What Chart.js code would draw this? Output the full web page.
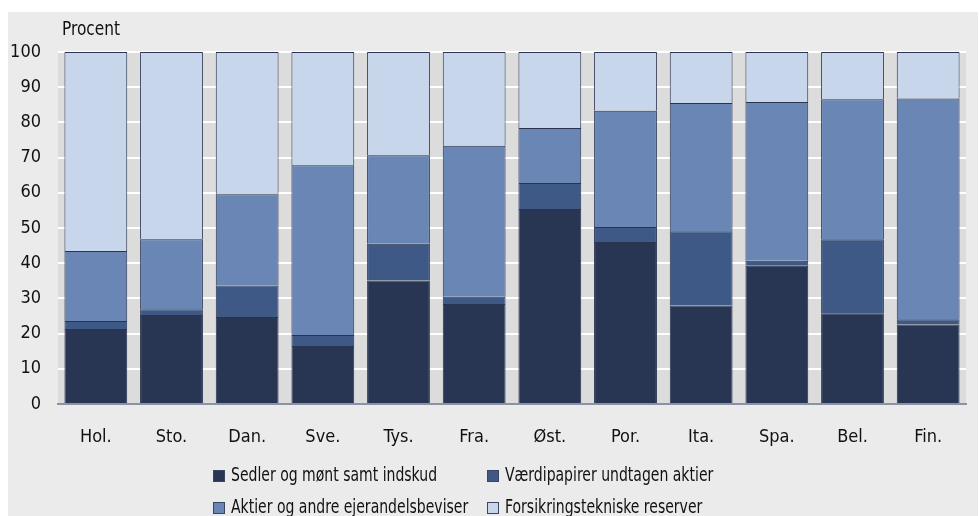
<!DOCTYPE html>
<html>
<head>
<meta charset="utf-8">
<script src="https://cdn.jsdelivr.net/npm/chart.js@4/dist/chart.umd.min.js"></script>
<style>
  html, body { margin: 0; padding: 0; background: #ffffff; }
  #wrap { width: 979px; height: 516px; position: relative; }
</style>
</head>
<body>
<div id="wrap"><canvas id="c" width="979" height="516"></canvas></div>
<script>
const categories = ["Hol.", "Sto.", "Dan.", "Sve.", "Tys.", "Fra.", "Øst.", "Por.", "Ita.", "Spa.", "Bel.", "Fin."];
const seriesNames = ["Sedler og mønt samt indskud", "Værdipapirer undtagen aktier", "Aktier og andre ejerandelsbeviser", "Forsikringstekniske reserver"];
const sedler = [21.3, 25.3, 24.7, 16.5, 35.1, 28.4, 55.4, 46.0, 28.0, 39.3, 25.8, 22.6];
const vaerdipapirer = [2.3, 1.6, 9.0, 3.1, 10.4, 2.1, 7.4, 4.3, 21.1, 1.4, 21.0, 1.5];
const aktier = [19.9, 19.9, 25.9, 48.2, 25.2, 42.9, 15.6, 33.0, 36.4, 45.1, 39.8, 62.7];
const forsikring = [56.5, 53.2, 40.4, 32.2, 29.3, 26.6, 21.6, 16.7, 14.5, 14.2, 13.4, 13.2];
const yTicks = [0, 10, 20, 30, 40, 50, 60, 70, 80, 90, 100];
const yUnit = "Procent";

const colors = ["#283654", "#3f5986", "#6a86b5", "#c7d6ea"];
const FONT = "'DejaVu Sans Condensed', 'Liberation Sans Narrow', sans-serif";

function condensedText(ctx, text, x, y, sx) {
  ctx.save();
  ctx.translate(x, y);
  ctx.scale(sx, 1);
  ctx.fillText(text, 0, 0);
  ctx.restore();
}

const bgPlugin = {
  id: 'bg',
  beforeDraw(chart) {
    const ctx = chart.ctx, a = chart.chartArea;
    ctx.save();
    ctx.fillStyle = '#ebebeb';
    ctx.fillRect(8, 12, 970, 504);
    ctx.fillStyle = '#dcdcdc';
    ctx.fillRect(a.left, a.top, a.right - a.left, a.bottom - a.top);
    ctx.restore();
  },
  afterDraw(chart) {
    const ctx = chart.ctx;
    ctx.save();
    ctx.fillStyle = '#111';
    ctx.font = "19px " + FONT;
    ctx.textBaseline = 'middle';
    ctx.textAlign = 'left';
    condensedText(ctx, yUnit, 62, 30, 0.9);
    // legend (2 columns)
    const cols = [213, 487];
    const rows = [476, 508];
    chart.data.datasets.forEach((ds, i) => {
      const x = cols[i % 2], y = rows[Math.floor(i / 2)];
      ctx.fillStyle = ds.backgroundColor;
      ctx.fillRect(x, y - 6, 12, 12);
      ctx.strokeStyle = '#3a4560';
      ctx.lineWidth = 1;
      ctx.strokeRect(x + 0.5, y - 5.5, 11, 11);
      ctx.fillStyle = '#111';
      condensedText(ctx, ds.label, x + 18, y, 0.82);
    });
    ctx.restore();
  }
};

const seriesData = [sedler, vaerdipapirer, aktier, forsikring];
new Chart(document.getElementById('c'), {
  type: 'bar',
  data: {
    labels: categories,
    datasets: seriesData.map((d, i) => ({
      label: seriesNames[i],
      data: d,
      backgroundColor: colors[i],
      borderColor: '#2a3450',
      borderWidth: 1,
      categoryPercentage: 1.0,
      barPercentage: 0.83
    }))
  },
  options: {
    responsive: false,
    animation: false,
    devicePixelRatio: 1,
    layout: { padding: { top: 52, right: 13, bottom: 0, left: 0 } },
    plugins: { legend: { display: false }, title: { display: false }, tooltip: { enabled: false } },
    scales: {
      x: {
        stacked: true,
        grid: { display: false, drawTicks: false },
        border: { display: true, color: '#8a93a6', width: 2 },
        ticks: { color: '#111', font: { family: FONT, size: 18 }, padding: 23, maxRotation: 0 },
        afterFit(scale) { scale.height = 112; }
      },
      y: {
        stacked: true,
        min: 0, max: 100,
        afterBuildTicks(scale) { scale.ticks = yTicks.map(v => ({ value: v })); },
        grid: { color: '#ffffff', lineWidth: 2, drawTicks: false },
        border: { display: false },
        ticks: { color: '#111', font: { family: FONT, size: 18 }, padding: 17 },
        afterFit(scale) { scale.width = 58; }
      }
    }
  },
  plugins: [bgPlugin]
});
</script>
</body>
</html>
